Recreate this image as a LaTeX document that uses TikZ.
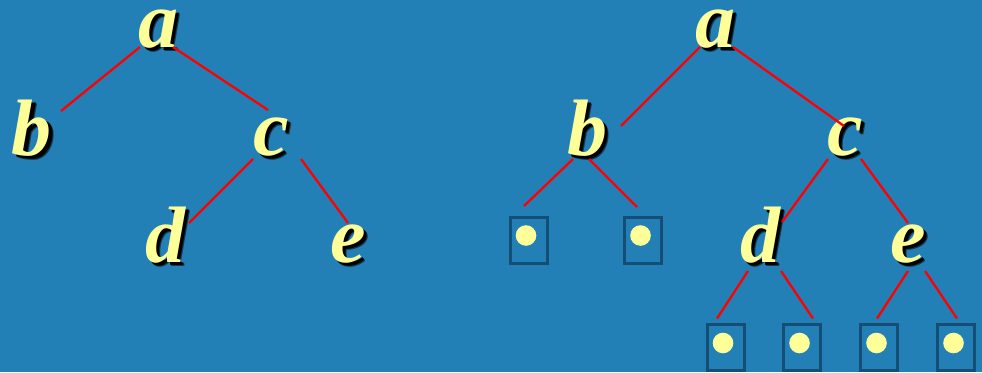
\documentclass[tikz,border=0pt]{standalone}
\usepackage{fontspec}
\setmainfont{Liberation Serif}
\usetikzlibrary{positioning}
\definecolor{bgblue}{RGB}{34,128,183}
\definecolor{boxblue}{RGB}{20,78,116}
\definecolor{lemon}{RGB}{255,255,153}
\newcommand\shd[1]{\rlap{\kern4.5pt\raisebox{-4.5pt}{\color{black!55!bgblue}#1}}%
  \rlap{\kern3.5pt\raisebox{-3.5pt}{\color{black}#1}}#1}
\tikzset{
 letter/.style={inner sep=0pt,outer sep=0pt,text height=36pt,text depth=0pt,text=lemon,
             font=\fontsize{80}{80}\selectfont\bfseries\itshape},
 leaf/.style={draw=boxblue,line width=3pt,minimum width=37pt,minimum height=46pt,
             inner sep=0pt,outer sep=0pt,
             path picture={\fill[lemon] ([xshift=-2.5pt,yshift=4.5pt]path picture bounding box.center) circle (10.3pt);}},
 edge/.style={red,line width=2.3pt}
}

\begin{document}
\begin{tikzpicture}[x=1pt,y=-1pt]
\fill[bgblue] (0,0) rectangle (982,372);
% left tree
\node[letter] (la) at (158,29) {\shd{a}};
\node[letter] (lb) at (32,137) {\shd{b}};
\node[letter] (lc) at (271,137) {\shd{c}};
\node[letter] (ld) at (165,244) {\shd{d}};
\node[letter] (le) at (348,244) {\shd{e}};
\draw[edge] ([xshift=-18pt,yshift=-18pt]la.center) -- ([xshift=29pt,yshift=26pt]lb.center);
\draw[edge] ([xshift=15pt,yshift=-18pt]la.center) -- ([xshift=-3pt,yshift=27pt]lc.center);
\draw[edge] ([xshift=-18pt,yshift=-22pt]lc.center) -- ([xshift=24pt,yshift=21pt]ld.center);
\draw[edge] ([xshift=30pt,yshift=-22pt]lc.center) -- ([yshift=21pt]le.center);
% right tree with leaves
\node[letter] (ra) at (715,29) {\shd{a}};
\node[letter] (rb) at (587,137) {\shd{b}};
\node[letter] (rc) at (845,137) {\shd{c}};
\node[letter] (rd) at (760,244) {\shd{d}};
\node[letter] (re) at (908,244) {\shd{e}};
\node[leaf] (l1) at (528.5,240) {};
\node[leaf] (l2) at (643,240) {};
\node[leaf] (l3) at (725.5,347.5) {};
\node[leaf] (l4) at (802,347.5) {};
\node[leaf] (l5) at (879,347.5) {};
\node[leaf] (l6) at (956,347.5) {};
\draw[edge] ([xshift=-15pt,yshift=-18pt]ra.center) -- ([xshift=34pt,yshift=11pt]rb.center);
\draw[edge] ([xshift=18pt,yshift=-18pt]ra.center) -- ([xshift=-1pt,yshift=11pt]rc.center);
\draw[edge] ([xshift=-14pt,yshift=-22pt]rb.center) -- ([xshift=-4.5pt,yshift=11pt]l1.north);
\draw[edge] ([xshift=2pt,yshift=-22pt]rb.center) -- ([xshift=-6pt,yshift=10pt]l2.north);
\draw[edge] ([xshift=-17pt,yshift=-22pt]rc.center) -- ([xshift=22pt,yshift=22pt]rd.center);
\draw[edge] ([xshift=16pt,yshift=-22pt]rc.center) -- ([yshift=21pt]re.center);
\draw[edge] ([xshift=-12pt,yshift=-27pt]rd.center) -- ([xshift=-8.5pt,yshift=6pt]l3.north);
\draw[edge] ([xshift=21pt,yshift=-27pt]rd.center) -- ([xshift=11pt,yshift=6pt]l4.north);
\draw[edge] ([yshift=-27pt]re.center) -- ([xshift=-2pt,yshift=6pt]l5.north);
\draw[edge] ([xshift=17pt,yshift=-27pt]re.center) -- ([xshift=1pt,yshift=6pt]l6.north);
\end{tikzpicture}
\end{document}
